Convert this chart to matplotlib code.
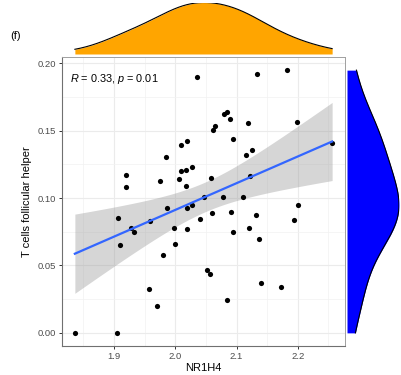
import matplotlib
matplotlib.use("Agg")
import matplotlib.pyplot as plt
import numpy as np

plt.rcParams['font.family'] = ['Liberation Sans', 'DejaVu Sans']
plt.rcParams['mathtext.fontset'] = 'custom'
plt.rcParams['mathtext.rm'] = 'Liberation Sans'
plt.rcParams['mathtext.it'] = 'Liberation Sans:italic'

# values
nr1h4 = [2.035, 2.009, 2.019, 1.984, 1.919, 1.920, 1.975, 2.009, 2.018, 2.028,
         2.006, 2.017, 2.058, 2.133, 2.182, 2.079, 2.084, 2.090, 2.065, 2.062,
         2.119, 2.199, 2.094, 2.115, 2.125, 2.256, 2.122, 1.907, 1.927, 1.932,
         1.909, 1.959, 1.986, 1.998, 2.019, 2.028, 2.019, 2.000, 1.980, 2.040,
         2.046, 2.051, 2.056, 1.957, 1.970, 1.836, 1.904, 2.078, 2.110, 2.201,
         2.193, 2.060, 2.091, 2.132, 2.094, 2.120, 2.136, 2.140, 2.173, 2.085]
tfh = [0.1900, 0.1398, 0.1425, 0.1306, 0.1174, 0.1084, 0.1129, 0.1201, 0.1209, 0.1231,
       0.1144, 0.1089, 0.1151, 0.1925, 0.1950, 0.1626, 0.1639, 0.1584, 0.1539, 0.1509,
       0.1554, 0.1567, 0.1442, 0.1323, 0.1355, 0.1408, 0.1166, 0.0851, 0.0778, 0.0751,
       0.0651, 0.0828, 0.0927, 0.0781, 0.0930, 0.0950, 0.0771, 0.0659, 0.0580, 0.0843,
       0.1009, 0.0470, 0.0438, 0.0323, 0.0201, 0.0000, 0.0000, 0.1012, 0.1012, 0.0950,
       0.0836, 0.0890, 0.0897, 0.0878, 0.0751, 0.0781, 0.0696, 0.0371, 0.0343, 0.0246]
x_ticks = [1.9, 2.0, 2.1, 2.2]
y_ticks = [0.00, 0.05, 0.10, 0.15, 0.20]
stat_label = r"$R$ = 0.33, $p$ = 0.01"

x = np.array(nr1h4)
y = np.array(tfh)


def kde(v, grid, adjust=1.0):
    # gaussian density with R's bw.nrd0
    n = len(v)
    q75, q25 = np.percentile(v, [75, 25])
    bw = adjust * 0.9 * min(v.std(ddof=1), (q75 - q25) / 1.34) * n ** -0.2
    d = (grid[:, None] - v[None, :]) / bw
    return np.exp(-0.5 * d ** 2).sum(axis=1) / (n * bw * np.sqrt(2 * np.pi))


fig = plt.figure(figsize=(4.01, 3.75), dpi=100)
W, H = 401, 375
ax = fig.add_axes([62 / W, 1 - 346 / H, 283 / W, 289 / H])

xpad = (x.max() - x.min()) * 0.05
ypad = (y.max() - y.min()) * 0.05
xlim = (x.min() - xpad, x.max() + xpad)
ylim = (y.min() - ypad, y.max() + ypad)

# linear fit with 95% band
n = len(x)
b, a = np.polyfit(x, y, 1)
xs = np.linspace(x.min(), x.max(), 80)
fit = a + b * xs
resid = y - (a + b * x)
s = np.sqrt((resid ** 2).sum() / (n - 2))
sxx = ((x - x.mean()) ** 2).sum()
se = s * np.sqrt(1 / n + (xs - x.mean()) ** 2 / sxx)
t = 2.0017
ax.fill_between(xs, fit - t * se, fit + t * se, color="#999999", alpha=0.4, lw=0, zorder=2)
ax.scatter(x, y, s=14, color="black", zorder=3, lw=0)
ax.plot(xs, fit, color="#3366FF", lw=1.6, zorder=4)

ax.set_xlim(xlim)
ax.set_ylim(ylim)
ax.set_xticks(x_ticks)
ax.set_xticklabels([f"{v:.1f}" for v in x_ticks])
ax.set_yticks(y_ticks)
ax.set_yticklabels([f"{v:.2f}" for v in y_ticks])
ax.set_xticks([v + 0.05 for v in [1.8] + x_ticks], minor=True)
ax.set_yticks([v + 0.025 for v in y_ticks[:-1]], minor=True)
ax.tick_params(which="major", length=2.5, width=0.7, color="#333333",
               labelsize=6.8, labelcolor="#4D4D4D", pad=1.5)
ax.tick_params(which="minor", length=0)
ax.grid(which="major", color="#EBEBEB", lw=0.8, zorder=0)
ax.grid(which="minor", color="#F2F2F2", lw=0.5, zorder=0)
ax.set_axisbelow(True)
for side in ["top", "right"]:
    ax.spines[side].set_color("#A0A0A0")
    ax.spines[side].set_linewidth(0.7)
for side in ["left", "bottom"]:
    ax.spines[side].set_color("#707070")
    ax.spines[side].set_linewidth(0.8)
ax.set_xlabel("NR1H4", fontsize=8, labelpad=2)
ax.set_ylabel("T cells follicular helper", fontsize=8, labelpad=4)
ax.text(0.028, 0.925, stat_label, transform=ax.transAxes, fontsize=7.8,
        va="center", ha="left")

# top marginal density
gx = np.linspace(x.min(), x.max(), 512)
dx = kde(x, gx, adjust=1.3)
axt = fig.add_axes([62 / W, 1 - 54 / H, 283 / W, 51.5 / H])
axt.fill_between(gx, 0, dx, color="#FFA500", lw=0)
axt.plot(gx, dx, color="black", lw=0.8)
axt.set_xlim(xlim)
axt.set_ylim(0, dx.max())
axt.axis("off")

# right marginal density
gy = np.linspace(y.min(), y.max(), 512)
dy = kde(y, gy, adjust=1.3)
axr = fig.add_axes([347 / W, 1 - 346 / H, 52 / W, 289 / H])
axr.fill_betweenx(gy, 0, dy, color="#0000FF", lw=0)
axr.plot(dy, gy, color="black", lw=0.8)
axr.set_ylim(ylim)
axr.set_xlim(0, dy.max())
axr.axis("off")

fig.text(16 / W, 1 - 36 / H, "(f)", fontsize=8, ha="center", va="center")

fig.savefig("out.png", dpi=100)
